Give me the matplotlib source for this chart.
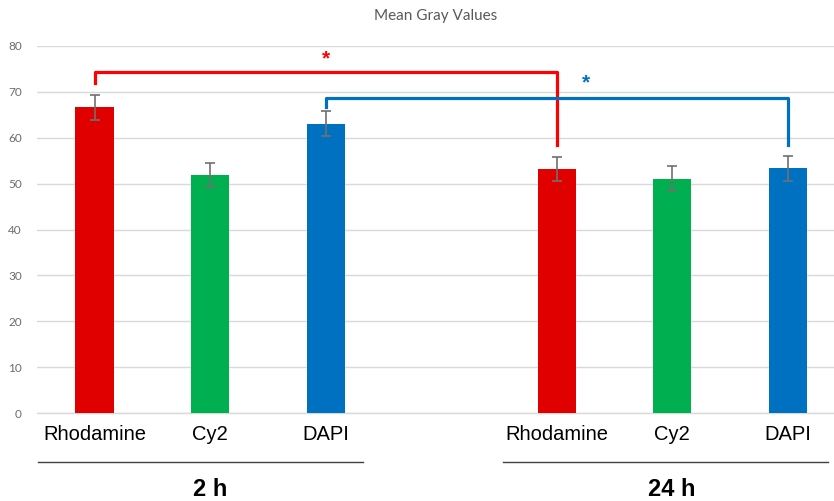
import matplotlib
matplotlib.use("Agg")
import matplotlib.pyplot as plt
import matplotlib.transforms as mtransforms

# ---- data ----
categories = ["Rhodamine", "Cy2", "DAPI", "Rhodamine", "Cy2", "DAPI"]
positions = [0, 1, 2, 4, 5, 6]
means = [66.6, 51.9, 63.1, 53.1, 51.1, 53.3]
errors = [2.8, 2.7, 2.8, 2.6, 2.7, 2.8]
bar_colors = ["#E00000", "#00B050", "#0070C0", "#E00000", "#00B050", "#0070C0"]
groups = ["2 h", "24 h"]
group_centers = [1, 5]
group_spans = [(-0.49, 2.325), (3.537, 6.35)]
yticks = [0, 10, 20, 30, 40, 50, 60, 70, 80]

# significance brackets: (x_left, y_left_end, x_right, y_right_end, y_top, star_x, star_y, color)
brackets = [
    (0, 71.9, 4, 58.4, 74.4, 2.0, 77.2, "#FF0000"),
    (2, 66.8, 6, 58.4, 68.7, 4.25, 72.0, "#0070C0"),
]

W, H = 834, 501
fig = plt.figure(figsize=(W / 100, H / 100), dpi=100)
ax = fig.add_axes([37 / W, (H - 413) / H, (834 - 37) / W, (413 - 46) / H])

ax.set_xlim(-0.498, 6.40)
ax.set_ylim(0, 80)

ax.bar(positions, means, width=0.33, color=bar_colors, zorder=3)
ax.errorbar(positions, means, yerr=errors, fmt="none", ecolor="#707070",
            elinewidth=1.2, capsize=3.5, capthick=1.2, zorder=4)

# grid
ax.set_yticks(yticks)
ax.yaxis.grid(True, color="#D9D9D9", linewidth=1.0, zorder=0)
ax.set_axisbelow(True)
for s in ["top", "right", "left"]:
    ax.spines[s].set_visible(False)
ax.spines["bottom"].set_color("#D9D9D9")
ax.spines["bottom"].set_linewidth(1.0)
ax.tick_params(axis="y", length=0, pad=11, labelsize=8.5, labelcolor="#6B6B6B")
ax.tick_params(axis="x", length=0, pad=9, labelsize=14.5, labelcolor="#000000")
ax.set_xticks(positions, categories, fontfamily="Liberation Sans")
for lab in ax.get_yticklabels():
    lab.set_fontfamily("Lato")

ax.set_title("Mean Gray Values", fontsize=11, color="#595959",
             fontfamily="Lato", pad=19)

# brackets
for xl, yl, xr, yr, yt, sx, sy, c in brackets:
    ax.plot([xl, xl, xr, xr], [yl, yt, yt, yr], color=c, linewidth=2.3,
            solid_joinstyle="round", zorder=5, clip_on=False)
    ax.text(sx, sy, "*", color=c, fontsize=15, fontweight="bold",
            ha="center", va="center", fontfamily="Liberation Sans")

# group lines and labels
trans = mtransforms.blended_transform_factory(ax.transData, ax.transAxes)
line_y = -(462 - 413) / (413 - 46)
label_y = -(490 - 413) / (413 - 46)
for (x0, x1), gc, g in zip(group_spans, group_centers, groups):
    ax.plot([x0, x1], [line_y, line_y], color="#404040", linewidth=1.0,
            transform=trans, clip_on=False)
    ax.text(gc, label_y, g, transform=trans, ha="center", va="center",
            fontsize=17, fontweight="bold", fontfamily="Liberation Sans")

fig.savefig("out.png", dpi=100)
